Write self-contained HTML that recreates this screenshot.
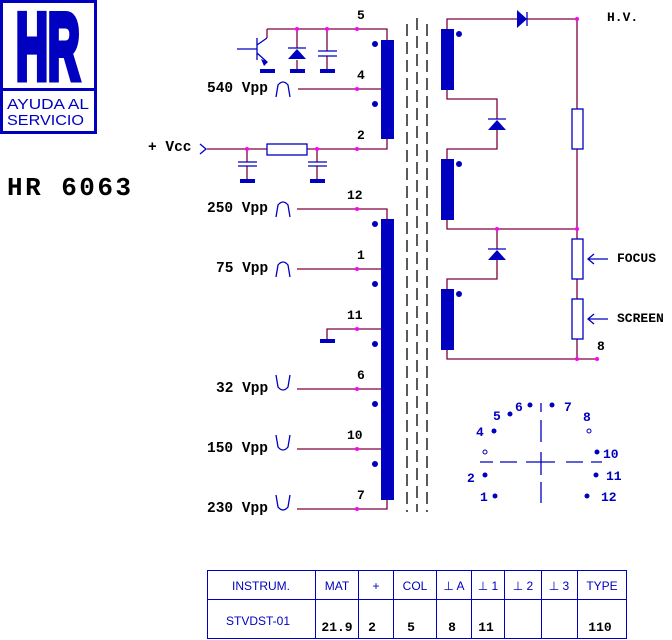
<!DOCTYPE html>
<html><head><meta charset="utf-8"><style>
html,body{margin:0;padding:0;background:#fff;}
svg{display:block;}
.m{font-family:"Liberation Mono",monospace;font-weight:bold;font-size:13px;fill:#000;}
.v{font-family:"Liberation Mono",monospace;font-weight:bold;font-size:14.5px;fill:#000;}
.b{font-family:"Liberation Mono",monospace;font-weight:bold;font-size:13px;fill:#0000c0;}
.s{font-family:"Liberation Sans",sans-serif;font-size:12px;fill:#0000c0;}
</style></head><body>
<svg width="672" height="640" viewBox="0 0 672 640" xmlns="http://www.w3.org/2000/svg">
<!-- logo -->
<rect x="1.5" y="1.5" width="94" height="131" fill="none" stroke="#0000c0" stroke-width="3"/>
<rect x="1" y="88" width="95" height="3" fill="#0000c0"/>
<text transform="translate(16,79) scale(0.47,1)" font-family="Liberation Sans,sans-serif" font-weight="bold" font-size="94" fill="#0000c0" stroke="#0000c0" stroke-width="7">HR</text>
<text x="7" y="109" font-family="Liberation Sans,sans-serif" font-size="15" fill="#0000c0" textLength="82" lengthAdjust="spacingAndGlyphs">AYUDA AL</text>
<text x="7" y="125" font-family="Liberation Sans,sans-serif" font-size="15" fill="#0000c0" textLength="77" lengthAdjust="spacingAndGlyphs">SERVICIO</text>
<text x="7" y="195" font-family="Liberation Mono,monospace" font-weight="bold" font-size="26" fill="#000" textLength="124" lengthAdjust="spacing">HR 6063</text>

<g fill="none" stroke="#800040" stroke-width="1.3">
<path d="M267 29H387V40"/>
<path d="M297 29V48M297 60V71"/>
<path d="M327 29V51M327 56V71"/>
<path d="M267 29V38"/>
<path d="M298 89H381"/>
<path d="M207 149H267M307 149H387V139"/>
<path d="M247 149V162M247 166V181"/>
<path d="M317 149V162M317 166V181"/>
<path d="M297 209H387V219"/>
<path d="M297 269H381"/>
<path d="M327 341V329H381"/>
<path d="M297 389H381"/>
<path d="M297 449H381"/>
<path d="M297 509H387V499"/>
<path d="M447 29V19H577V359H597"/>
<path d="M447 89V99H497V119M497 130V149H447V159"/>
<path d="M447 219V229H577"/>
<path d="M497 229V249M497 259V279H447V289"/>
<path d="M447 349V359H577"/>
</g>
<g fill="none" stroke="#0000c0" stroke-width="1.3">
<path d="M237 49H257M257 38V60M257 45L267 38M257 53L267 62"/>
<path d="M288 48H306"/>
<path d="M318 51H337M318 56H337"/>
<path d="M238 162H257M238 166H257M308 162H327M308 166H327"/>
<rect x="267" y="144" width="40" height="11"/>
<path d="M200 144L206 149L200 154"/>
<path d="M488 119H506M488 249H506M527 12V26"/>
<rect x="572" y="109" width="11" height="40" fill="#fff"/>
<rect x="572" y="239" width="11" height="40" fill="#fff"/>
<rect x="572" y="299" width="11" height="40" fill="#fff"/>
<path d="M608 259H588M594 254L588 259L594 264M608 319H588M594 314L588 319L594 324"/>
<path d="M276 97L278 85Q283 79 288 85L290 97"/>
<path d="M276 217L278 205Q283 199 288 205L290 217"/>
<path d="M276 277L278 265Q283 259 288 265L290 277"/>
<path d="M276 375L278 387Q283 393 288 387L290 375"/>
<path d="M276 435L278 447Q283 453 288 447L290 435"/>
<path d="M276 495L278 507Q283 513 288 507L290 495"/>
</g>
<g fill="#0000c0">
<path d="M261 59L268 62L264 66Z"/>
<path d="M297 49L288 59H306Z"/>
<path d="M497 120L488 130H506Z"/>
<path d="M497 250L488 260H506Z"/>
<path d="M517 10L527 19L517 28Z"/>
<rect x="260" y="69" width="15" height="4"/><rect x="290" y="69" width="15" height="4"/><rect x="320" y="69" width="15" height="4"/>
<rect x="240" y="179" width="15" height="4"/><rect x="310" y="179" width="15" height="4"/><rect x="320" y="339" width="15" height="4"/>
<rect x="381" y="40" width="13" height="99"/>
<rect x="381" y="219" width="13" height="281"/>
<rect x="441" y="29" width="13" height="61"/>
<rect x="441" y="159" width="13" height="61"/>
<rect x="441" y="289" width="13" height="61"/>
<circle cx="375" cy="44" r="3"/><circle cx="375" cy="104" r="3"/>
<circle cx="375" cy="224" r="3"/><circle cx="375" cy="284" r="3"/><circle cx="375" cy="344" r="3"/><circle cx="375" cy="404" r="3"/><circle cx="375" cy="464" r="3"/>
<circle cx="459" cy="34" r="3"/><circle cx="459" cy="164" r="3"/><circle cx="459" cy="294" r="3"/>
</g>
<g fill="#ff00ff">
<circle cx="297" cy="29" r="2"/><circle cx="327" cy="29" r="2"/><circle cx="357" cy="29" r="2"/>
<circle cx="357" cy="89" r="2"/><circle cx="247" cy="149" r="2"/><circle cx="317" cy="149" r="2"/><circle cx="357" cy="149" r="2"/>
<circle cx="357" cy="209" r="2"/><circle cx="357" cy="269" r="2"/><circle cx="357" cy="329" r="2"/><circle cx="357" cy="389" r="2"/><circle cx="357" cy="449" r="2"/><circle cx="357" cy="509" r="2"/>
<circle cx="577" cy="19" r="2"/><circle cx="497" cy="229" r="2"/><circle cx="577" cy="229" r="2"/><circle cx="577" cy="359" r="2"/><circle cx="597" cy="359" r="2"/>
</g>
<g stroke="#000" stroke-width="1.3" stroke-dasharray="12,6">
<path d="M407 24V512M417 18V512M427 24V512"/>
</g>
<text class="m" x="357" y="19">5</text>
<text class="m" x="357" y="79">4</text>
<text class="m" x="357" y="139">2</text>
<text class="m" x="347" y="199">12</text>
<text class="m" x="357" y="259">1</text>
<text class="m" x="347" y="319">11</text>
<text class="m" x="357" y="379">6</text>
<text class="m" x="347" y="439">10</text>
<text class="m" x="357" y="499">7</text>
<text class="v" x="207" y="92">540 Vpp</text>
<text class="v" x="148" y="151" font-size="13">+ Vcc</text>
<text class="v" x="207" y="212">250 Vpp</text>
<text class="v" x="216" y="272">75 Vpp</text>
<text class="v" x="216" y="392">32 Vpp</text>
<text class="v" x="207" y="452">150 Vpp</text>
<text class="v" x="207" y="512">230 Vpp</text>
<text class="m" x="607" y="21" font-size="11">H.V.</text>
<text class="m" x="617" y="262" font-size="11">FOCUS</text>
<text class="m" x="617" y="322" font-size="11">SCREEN</text>
<text class="m" x="597" y="350">8</text>
<g stroke="#0000c0" stroke-width="1.3">
<path d="M541 403V412M541 420V442M541 452V475M541 482V503"/>
<path d="M480 462H493M500 462H517M526 462H555M566 462H583M591 462H602"/>
</g>
<g fill="#0000c0">
<circle cx="530" cy="405" r="2.5"/><circle cx="552" cy="405" r="2.5"/><circle cx="510" cy="414" r="2.5"/>
<circle cx="494" cy="431" r="2.5"/><circle cx="597" cy="452" r="2.5"/><circle cx="485" cy="475" r="2.5"/>
<circle cx="596" cy="475" r="2.5"/><circle cx="495" cy="496" r="2.5"/><circle cx="587" cy="496" r="2.5"/>
</g>
<circle cx="589" cy="431" r="2" fill="none" stroke="#0000c0"/>
<circle cx="485" cy="452" r="2" fill="none" stroke="#0000c0"/>
<text class="b" x="515" y="411">6</text><text class="b" x="564" y="411">7</text>
<text class="b" x="493" y="420">5</text><text class="b" x="583" y="421">8</text>
<text class="b" x="476" y="436">4</text><text class="b" x="603" y="458">10</text>
<text class="b" x="467" y="482">2</text><text class="b" x="606" y="480">11</text>
<text class="b" x="480" y="501">1</text><text class="b" x="601" y="501">12</text>
<!-- table -->
<g fill="none" stroke="#0000c0" stroke-width="1">
<rect x="207.5" y="570.5" width="419" height="68"/>
<path d="M207 599.5H627M315.5 570V639M358.5 570V639M393.5 570V639M436.5 570V639M471.5 570V639M504.5 570V639M541.5 570V639M577.5 570V639"/>
</g>
<text class="s" x="261" y="590" text-anchor="middle">INSTRUM.</text>
<text class="s" x="337" y="590" text-anchor="middle">MAT</text>
<text class="s" x="376" y="590" text-anchor="middle">+</text>
<text class="s" x="415" y="590" text-anchor="middle">COL</text>
<text class="s" x="454" y="590" text-anchor="middle">⊥ A</text>
<text class="s" x="488" y="590" text-anchor="middle">⊥ 1</text>
<text class="s" x="523" y="590" text-anchor="middle">⊥ 2</text>
<text class="s" x="559" y="590" text-anchor="middle">⊥ 3</text>
<text class="s" x="602" y="590" text-anchor="middle">TYPE</text>
<text class="s" x="258" y="625" text-anchor="middle">STVDST-01</text>
<text class="m" x="337" y="631" text-anchor="middle">21.9</text>
<text class="m" x="372" y="631" text-anchor="middle">2</text>
<text class="m" x="411" y="631" text-anchor="middle">5</text>
<text class="m" x="452" y="631" text-anchor="middle">8</text>
<text class="m" x="486" y="631" text-anchor="middle">11</text>
<text class="m" x="600" y="631" text-anchor="middle">110</text>
</svg>
</body></html>
